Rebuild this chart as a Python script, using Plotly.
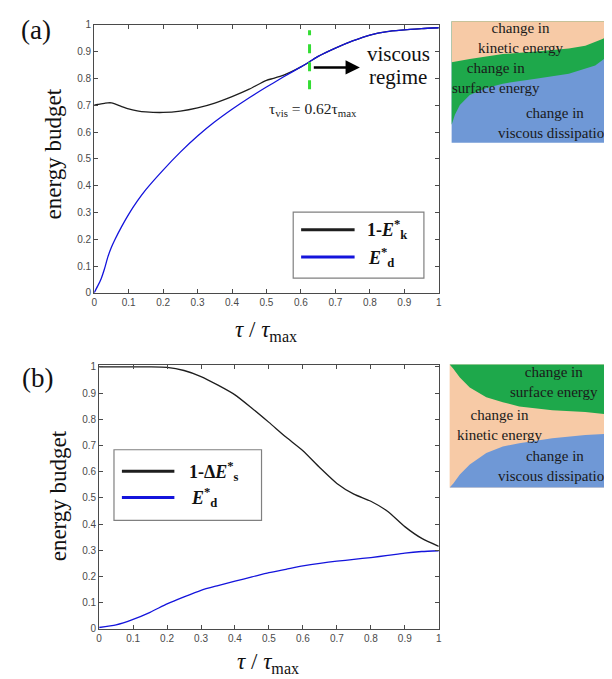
import plotly.graph_objects as go

W, H = 612, 679

# ---------------- data ----------------
tau_a = [0, 0.01, 0.02, 0.03, 0.04, 0.05, 0.06, 0.08, 0.1, 0.125, 0.15, 0.2, 0.25, 0.3, 0.35,
         0.4, 0.45, 0.5, 0.52, 0.55, 0.6, 0.625, 0.65, 0.7, 0.75, 0.8, 0.85, 0.9, 0.95, 1.0]
one_minus_Ek = [0.700, 0.703, 0.705, 0.707, 0.709, 0.709, 0.705, 0.695, 0.686, 0.679, 0.675, 0.673,
                0.678, 0.690, 0.708, 0.732, 0.760, 0.793, 0.800, 0.812, 0.843, 0.862, 0.882, 0.913,
                0.940, 0.962, 0.975, 0.981, 0.986, 0.989]
Ed_a = [0.0, 0.025, 0.052, 0.09, 0.135, 0.17, 0.198, 0.248, 0.293, 0.342, 0.385, 0.458, 0.525, 0.585,
        0.638, 0.685, 0.728, 0.768, 0.783, 0.806, 0.843, 0.862, 0.882, 0.913, 0.940, 0.962, 0.975,
        0.981, 0.986, 0.989]

tau_b = [0, 0.05, 0.1, 0.15, 0.2, 0.25, 0.3, 0.35, 0.4, 0.45, 0.5, 0.55, 0.6, 0.65, 0.7, 0.75,
         0.8, 0.85, 0.9, 0.95, 1.0]
one_minus_dEs = [1.0, 1.0, 1.0, 1.0, 0.998, 0.986, 0.963, 0.93, 0.893, 0.842, 0.788, 0.732, 0.68,
                 0.615, 0.555, 0.514, 0.487, 0.448, 0.39, 0.345, 0.315]
Ed_b = [0.005, 0.015, 0.036, 0.063, 0.095, 0.122, 0.147, 0.165, 0.182, 0.198, 0.214, 0.227, 0.24,
        0.25, 0.258, 0.265, 0.272, 0.28, 0.289, 0.295, 0.298]

tick_vals = [0, 0.1, 0.2, 0.3, 0.4, 0.5, 0.6, 0.7, 0.8, 0.9, 1.0]
tick_text = ["0", "0.1", "0.2", "0.3", "0.4", "0.5", "0.6", "0.7", "0.8", "0.9", "1"]

tau_vis = 0.625
vis_line_y = [0.76, 0.98]
arrow_x = [0.633, 0.771]
arrow_y = 0.841

# ---------------- helpers ----------------
def px(x):
    return x / W

def py(y):
    return 1 - y / H

def path(pts):
    s = "M " + " L ".join(f"{px(x):.5f},{py(y):.5f}" for x, y in pts)
    return s + " Z"

SERIF = "Liberation Serif, Times New Roman, serif"
SANS = "Liberation Sans, Arial, sans-serif"
BLACK = "#1e1e1e"
BLUE = "#1414dc"
PEACH = "#f7caa6"
GREEN = "#1ea84b"
LBLUE = "#6f98d6"
TXT = "#1a1a1a"
AX = "#4a4a4a"

fig = go.Figure()
fig.add_trace(go.Scatter(x=tau_a, y=one_minus_Ek, mode="lines", line=dict(color=BLACK, width=1.3, shape="spline", smoothing=0.6),
                         xaxis="x", yaxis="y", showlegend=False, name="1-E*k"))
fig.add_trace(go.Scatter(x=tau_a, y=Ed_a, mode="lines", line=dict(color=BLUE, width=1.3, shape="spline", smoothing=0.6),
                         xaxis="x", yaxis="y", showlegend=False, name="E*d"))
fig.add_trace(go.Scatter(x=[tau_vis, tau_vis], y=vis_line_y, mode="lines",
                         line=dict(color="#33dd33", width=3, dash="dash"),
                         xaxis="x", yaxis="y", showlegend=False, name="tau_vis"))
fig.add_trace(go.Scatter(x=tau_b, y=one_minus_dEs, mode="lines", line=dict(color=BLACK, width=1.3, shape="spline", smoothing=0.6),
                         xaxis="x2", yaxis="y2", showlegend=False, name="1-dE*s"))
fig.add_trace(go.Scatter(x=tau_b, y=Ed_b, mode="lines", line=dict(color=BLUE, width=1.3, shape="spline", smoothing=0.6),
                         xaxis="x2", yaxis="y2", showlegend=False, name="E*d b"))

axis_common = dict(ticks="inside", ticklen=4, tickcolor=AX, showline=True, linecolor=AX, linewidth=1,
                   mirror="ticks", showgrid=False, zeroline=False,
                   tickfont=dict(family=SANS, size=10, color=AX))

fig.update_layout(
    width=W, height=H, margin=dict(l=0, r=0, t=0, b=0),
    paper_bgcolor="white", plot_bgcolor="white",
    xaxis=dict(domain=[px(84), px(432)], range=[0, 1], tickvals=tick_vals, ticktext=tick_text,
               anchor="y", **axis_common),
    yaxis=dict(domain=[py(284), py(12)], range=[0, 1.0], tickvals=tick_vals, ticktext=tick_text,
               anchor="x", **axis_common),
    xaxis2=dict(domain=[px(89), px(432)], range=[0, 1], tickvals=tick_vals, ticktext=tick_text,
                anchor="y2", **axis_common),
    yaxis2=dict(domain=[py(625), py(357)], range=[0, 1.008], tickvals=tick_vals, ticktext=tick_text,
                anchor="x2", **axis_common),
)

shapes = []
# --- top schematic ---
shapes.append(dict(type="path", xref="paper", yref="paper", line=dict(width=0), fillcolor=LBLUE,
                   path=path([(445, 8.3), (612, 8.3), (612, 131.7), (445, 131.7)])))
gb = [(445, 113.3), (448.3, 103.3), (453.3, 93.3), (463.3, 83.3), (480, 76), (496.7, 71.7),
      (530, 66.7), (563.3, 61.7), (590, 53.3), (612, 36.7)]
shapes.append(dict(type="path", xref="paper", yref="paper", line=dict(width=0), fillcolor=GREEN,
                   path=path([(445, 8.3), (612, 8.3)] + gb[::-1])))
pg = [(445, 50), (463.3, 46.7), (496.7, 41.7), (530, 39), (563.3, 36), (580, 33.3), (596.7, 26.7),
      (612, 18.3)]
shapes.append(dict(type="path", xref="paper", yref="paper", line=dict(width=0), fillcolor=PEACH,
                   path=path([(445, 8.3), (612, 8.3)] + pg[::-1])))
# --- bottom schematic ---
shapes.append(dict(type="path", xref="paper", yref="paper", line=dict(width=0), fillcolor=PEACH,
                   path=path([(443, 356.7), (612, 356.7), (612, 481.7), (443, 481.7)])))
gp = [(612, 408.3), (580, 405), (546.7, 403.3), (513.3, 399.3), (496.7, 395), (480, 390),
      (463.3, 380), (453.3, 370), (446.7, 361), (443, 356.7)]
shapes.append(dict(type="path", xref="paper", yref="paper", line=dict(width=0), fillcolor=GREEN,
                   path=path([(443, 356.7), (612, 356.7)] + gp)))
bp = [(612, 426.7), (580, 428.3), (546.7, 431.7), (513.3, 436.7), (496.7, 440), (480, 446.7),
      (463.3, 458.3), (453.3, 468.3), (446.7, 477.5), (443, 481.7)]
shapes.append(dict(type="path", xref="paper", yref="paper", line=dict(width=0), fillcolor=LBLUE,
                   path=path([(443, 481.7), (612, 481.7)] + bp)))

# --- legends (manual, MATLAB style) ---
shapes.append(dict(type="rect", xref="paper", yref="paper", x0=px(285), x1=px(417), y0=py(269), y1=py(202),
                   line=dict(color="#808080", width=1.2), fillcolor="white"))
shapes.append(dict(type="line", xref="paper", yref="paper", x0=px(293), x1=px(347), y0=py(220), y1=py(220),
                   line=dict(color=BLACK, width=3)))
shapes.append(dict(type="line", xref="paper", yref="paper", x0=px(293), x1=px(347), y0=py(247.7), y1=py(247.7),
                   line=dict(color=BLUE, width=3)))
shapes.append(dict(type="rect", xref="paper", yref="paper", x0=px(104), x1=px(253), y0=py(515), y1=py(443.3),
                   line=dict(color="#808080", width=1.2), fillcolor="white"))
shapes.append(dict(type="line", xref="paper", yref="paper", x0=px(112), x1=px(165), y0=py(465), y1=py(465),
                   line=dict(color=BLACK, width=3)))
shapes.append(dict(type="line", xref="paper", yref="paper", x0=px(112), x1=px(165), y0=py(491.7), y1=py(491.7),
                   line=dict(color=BLUE, width=3)))
fig.update_layout(shapes=shapes)

ann = []
def text(x, y, s, size, family=SERIF, color=TXT, xanchor="center", angle=0):
    ann.append(dict(x=px(x), y=py(y), xref="paper", yref="paper", text=s, showarrow=False,
                    xanchor=xanchor, yanchor="middle", textangle=angle,
                    font=dict(family=family, size=size, color=color)))

# panel labels
text(25, 17, "(a)", 27, color="#111")
text(27, 370, "(b)", 27, color="#111")
# axis titles
text(43, 143, "energy budget", 23, color="#111", angle=-90)
text(48, 490, "energy budget", 23, color="#111", angle=-90)
text(258, 323, "<i>τ</i> / <i>τ</i><sub>max</sub>", 23, color="#111")
text(260, 660, "<i>τ</i> / <i>τ</i><sub>max</sub>", 23, color="#111")
# legend text
text(357, 220, "<b>1-<i>E</i><sup>*</sup><sub>k</sub></b>", 18, color="#111", xanchor="left")
text(359, 247.7, "<b><i>E</i><sup>*</sup><sub>d</sub></b>", 18, color="#111", xanchor="left")
text(178, 465, "<b>1-Δ<i>E</i><sup>*</sup><sub>s</sub></b>", 18, color="#111", xanchor="left")
text(180, 491.7, "<b><i>E</i><sup>*</sup><sub>d</sub></b>", 18, color="#111", xanchor="left")
# viscous regime annotations
text(305, 98, "τ<sub>vis</sub> = 0.62τ<sub>max</sub>", 15.5, color="#222")
text(391, 42, "viscous", 21, color="#111")
text(391, 65, "regime", 21, color="#111")
# schematic texts (two-line blocks)
SF = 15
text(515, 25, "change in<br>kinetic energy", SF)
text(490, 66, "change in<br>surface energy", SF)
text(549, 112, "change in<br>viscous dissipation", SF)
text(548, 375, "change in<br>surface energy", SF)
text(494, 418, "change in<br>kinetic energy", SF)
text(549, 460, "change in<br>viscous dissipation", SF)

# arrow to the viscous regime
ann.append(dict(x=arrow_x[1], y=arrow_y, ax=arrow_x[0], ay=arrow_y, xref="x", yref="y", axref="x", ayref="y",
                text="", showarrow=True, arrowhead=2, arrowsize=1.1, arrowwidth=2.6, arrowcolor="#000"))

fig.update_layout(annotations=ann)
fig.write_html("out.html")
